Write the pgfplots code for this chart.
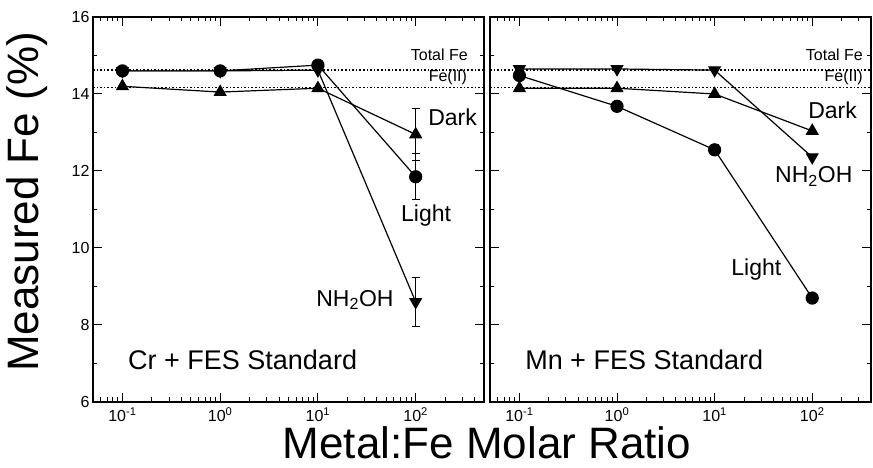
\documentclass[border=0pt]{standalone}
\usepackage{fontspec}
\setmainfont{Liberation Sans}
\usepackage{pgfplots}
\pgfplotsset{compat=1.18}
\usetikzlibrary{calc}

\newcommand{\tickfont}{\fontsize{16}{19}\selectfont}
\newcommand{\lblfont}{\fontsize{23}{26}\selectfont}
\newcommand{\panelfont}{\fontsize{27}{30}\selectfont}
\newcommand{\bigfont}{\fontsize{44}{50}\selectfont}

\pgfplotsset{
  feser/.style={black, line width=1.2pt},
  fedn/.style={feser, mark=triangle*, mark size=6.5pt, mark options={solid, rotate=180, fill=black}},
  feup/.style={feser, mark=triangle*, mark size=6.5pt, mark options={solid, fill=black}},
  feci/.style={feser, mark=*, mark size=6pt, mark options={solid, fill=black}},
  feref/.style={black, line width=1.3pt, dash pattern=on 1.6pt off 2pt, forget plot},
}
\tikzset{
  felab/.style={inner sep=0pt, font=\lblfont},
  fesmall/.style={inner sep=0pt, font=\tickfont},
}

\begin{document}
\begin{tikzpicture}
\begin{axis}[name=L, width=391pt, xmin=0.05, xmax=500,
    xmode=log, scale only axis, height=385pt,
    ymin=6, ymax=16, ytick={6,8,...,16}, minor ytick={7,9,...,15},
    xtick={0.1,1,10,100},
    xticklabels={10\textsuperscript{-1},10\textsuperscript{0},10\textsuperscript{1},10\textsuperscript{2}},
    minor xtick={0.06,0.07,0.08,0.09,0.2,0.3,0.4,0.5,0.6,0.7,0.8,0.9,2,3,4,5,6,7,8,9,20,30,40,50,60,70,80,90,200,300,400},
    axis line style={line width=1.3pt},
    major tick length=9pt, minor tick length=4.5pt,
    every tick/.append style={black, line width=1pt},
    tick label style={font=\tickfont},
    /pgf/number format/assume math mode=true,
    xticklabel style={yshift=-2pt}]
  \addplot[feref] coordinates {(0.05,14.62) (500,14.62)};
  \addplot[feref] coordinates {(0.05,14.17) (500,14.17)};
  % Dark
  \addplot[feup, error bars/.cd, y dir=both, y explicit, error bar style={line width=1pt, black}, error mark options={black, line width=1pt, mark size=4pt, rotate=90}]
    coordinates {(0.1,14.2) +- (0,0) (1,14.05) +- (0,0) (10,14.15) +- (0,0) (100,12.95) +- (0,0.67)};
  % Light
  \addplot[feci, error bars/.cd, y dir=both, y explicit, error bar style={line width=1pt, black}, error mark options={black, line width=1pt, mark size=4pt, rotate=90}]
    coordinates {(0.1,14.6) +- (0,0) (1,14.6) +- (0,0) (10,14.75) +- (0,0) (100,11.85) +- (0,0.6)};
  % NH2OH
  \addplot[fedn, error bars/.cd, y dir=both, y explicit, error bar style={line width=1pt, black}, error mark options={black, line width=1pt, mark size=4pt, rotate=90}]
    coordinates {(0.1,14.6) +- (0,0) (1,14.6) +- (0,0) (10,14.62) +- (0,0) (100,8.6) +- (0,0.63)};
  \node[fesmall, anchor=east] at (rel axis cs:0.959,0.901) {Total Fe};
  \node[fesmall, anchor=east] at (rel axis cs:0.957,0.842) {Fe(II)};
  \node[felab, anchor=west] at (rel axis cs:0.857,0.740) {Dark};
  \node[felab] at (rel axis cs:0.852,0.485) {Light};
  \node[felab] at (rel axis cs:0.670,0.265) {NH\textsubscript{2}OH};
  \node[inner sep=0pt, font=\panelfont, anchor=west] at (rel axis cs:0.0895,0.109) {Cr + FES Standard};
\end{axis}
\begin{axis}[name=R, at={($(L.south east)+(6pt,0)$)}, anchor=south west,
    width=381pt, xmin=0.05, xmax=400, yticklabels={},
    xmode=log, scale only axis, height=385pt,
    ymin=6, ymax=16, ytick={6,8,...,16}, minor ytick={7,9,...,15},
    xtick={0.1,1,10,100},
    xticklabels={10\textsuperscript{-1},10\textsuperscript{0},10\textsuperscript{1},10\textsuperscript{2}},
    minor xtick={0.06,0.07,0.08,0.09,0.2,0.3,0.4,0.5,0.6,0.7,0.8,0.9,2,3,4,5,6,7,8,9,20,30,40,50,60,70,80,90,200,300},
    axis line style={line width=1.3pt},
    major tick length=9pt, minor tick length=4.5pt,
    every tick/.append style={black, line width=1pt},
    tick label style={font=\tickfont},
    xticklabel style={yshift=-2pt}]
  \addplot[feref] coordinates {(0.05,14.62) (400,14.62)};
  \addplot[feref] coordinates {(0.05,14.17) (400,14.17)};
  % NH2OH
  \addplot[fedn] coordinates {(0.1,14.65) (1,14.65) (10,14.62) (100,12.36)};
  % Dark
  \addplot[feup] coordinates {(0.1,14.15) (1,14.15) (10,14.0) (100,13.04)};
  % Light
  \addplot[feci, error bars/.cd, y dir=both, y explicit, error bar style={line width=1pt, black}, error mark options={black, line width=1pt, mark size=4pt, rotate=90}]
    coordinates {(0.1,14.48) +- (0,0.1) (1,13.68) +- (0,0) (10,12.55) +- (0,0.13) (100,8.7) +- (0,0.1)};
  \node[fesmall, anchor=east] at (rel axis cs:0.979,0.901) {Total Fe};
  \node[fesmall, anchor=east] at (rel axis cs:0.979,0.842) {Fe(II)};
  \node[felab, anchor=west] at (rel axis cs:0.835,0.758) {Dark};
  \node[felab, anchor=west] at (rel axis cs:0.748,0.585) {NH\textsubscript{2}OH};
  \node[felab, anchor=west] at (rel axis cs:0.633,0.345) {Light};
  \node[inner sep=0pt, font=\panelfont, anchor=west] at (rel axis cs:0.092,0.109) {Mn + FES Standard};
\end{axis}
\node[font=\bigfont, inner sep=0pt, anchor=base] at ($(L.south east)!0.5!(R.south west)+(0,-57pt)$) {Metal:Fe Molar Ratio};
\node[font=\bigfont, inner sep=0pt, rotate=90] at ($(L.south west)+(-66pt,200pt)$) {Measured Fe (\%)};
\path ($(L.south west)+(-93pt,-66pt)$) ($(L.north west)+(-93pt,17pt)$) ($(R.south east)+(2pt,0)$);
\end{tikzpicture}
\end{document}
